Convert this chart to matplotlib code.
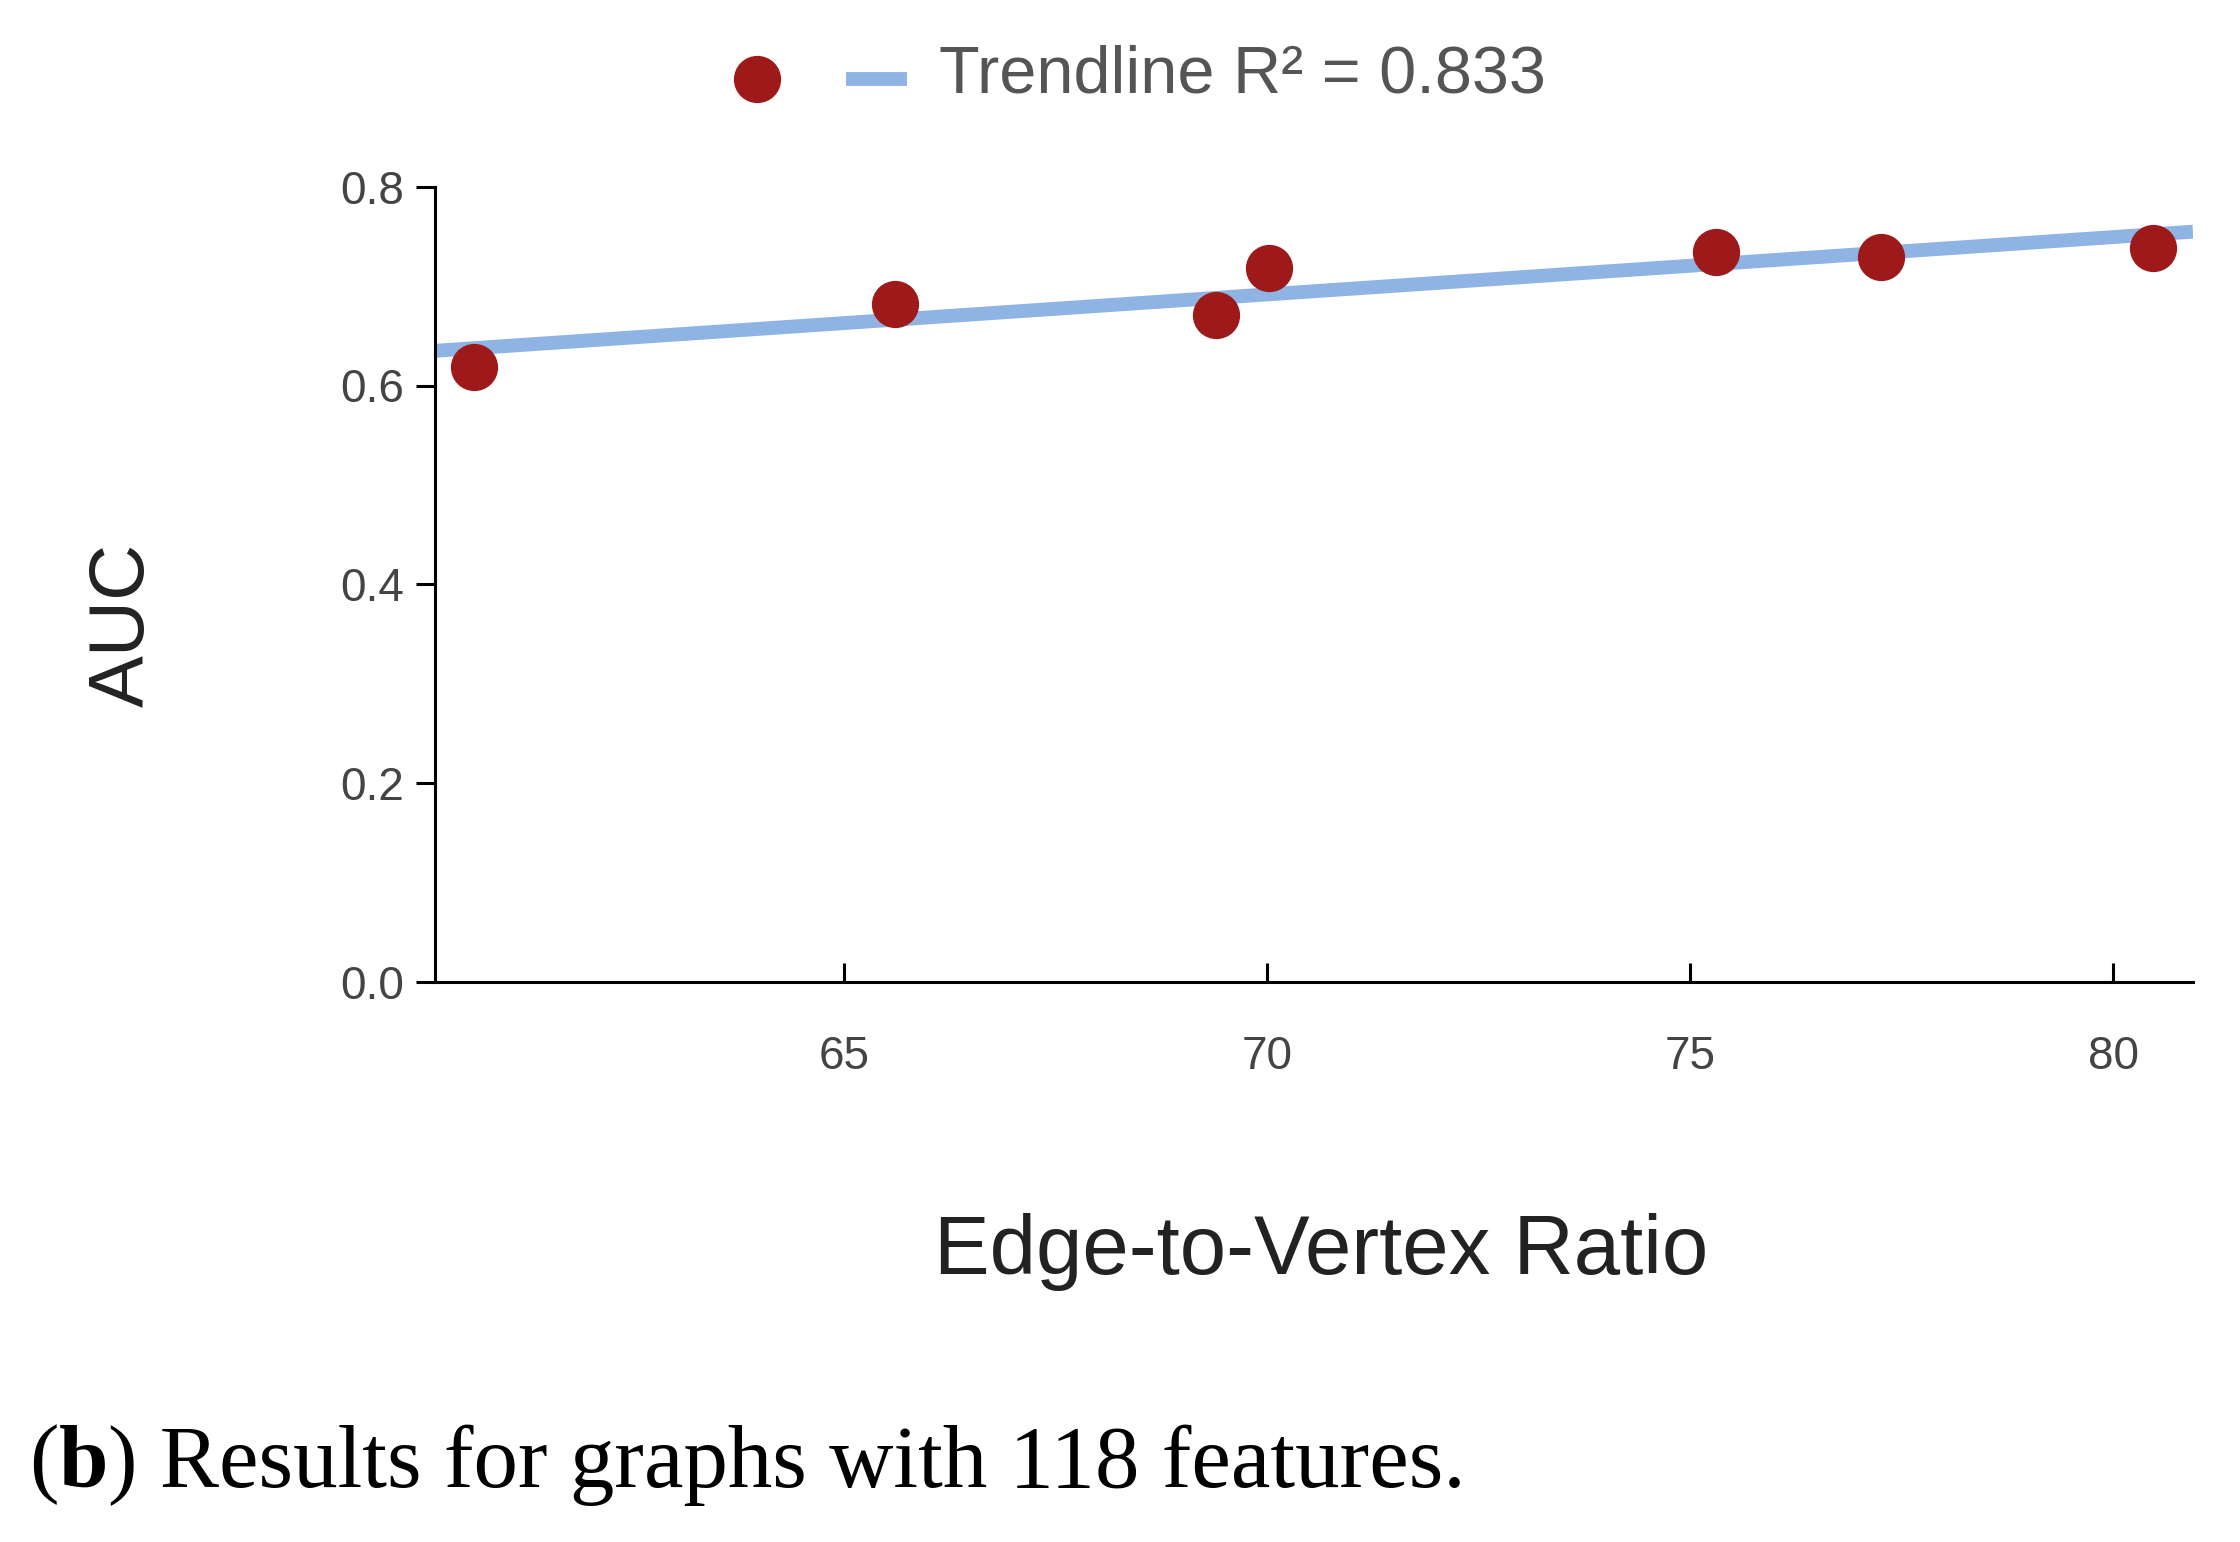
import matplotlib
matplotlib.use('Agg')
import matplotlib.pyplot as plt
import numpy as np

plt.rcParams['font.family'] = ['Liberation Sans', 'DejaVu Sans']

# data
ratio = [60.63, 65.6, 69.4, 70.02, 75.3, 77.25, 80.47]
auc = [0.619, 0.682, 0.671, 0.718, 0.734, 0.729, 0.738]
x_ticks = [65, 70, 75, 80]
y_ticks = [0.0, 0.2, 0.4, 0.6, 0.8]

C_DOT = '#9e1a1a'
C_TREND = '#8fb4e3'
C_TXT = '#444444'

fig = plt.figure(figsize=(22.4, 15.42), dpi=100)
ax = fig.add_axes([0.194, 0.363, 0.785, 0.516])

xmin, xmax = 60.16, 80.94
slope, icpt = np.polyfit(ratio, auc, 1)
xs = np.array([xmin, xmax])
ax.plot(xs, slope * xs + icpt, color=C_TREND, lw=10, solid_capstyle='butt', zorder=2)
ax.plot(ratio, auc, 'o', color=C_DOT, ms=33, zorder=3)

ax.set_xlim(xmin, xmax)
ax.set_ylim(0, 0.8)
ax.set_xticks(x_ticks)
ax.set_yticks(y_ticks)
ax.set_yticklabels([f'{v:.1f}' for v in y_ticks])
ax.spines['top'].set_visible(False)
ax.spines['right'].set_visible(False)
ax.spines['left'].set_linewidth(2.2)
ax.spines['bottom'].set_linewidth(2.2)
ax.tick_params(axis='x', direction='in', length=14, width=2.2, labelsize=33,
               labelcolor=C_TXT, pad=38)
ax.tick_params(axis='y', direction='out', length=14, width=2.2, labelsize=33,
               labelcolor=C_TXT, pad=8)

fig.text(0.055, 0.595, 'AUC', rotation=90, ha='center', va='center',
         fontsize=56, color='#222222')
fig.text(0.59, 0.188, 'Edge-to-Vertex Ratio', ha='center', va='center',
         fontsize=60, color='#222222')

# legend at top
fig.add_artist(plt.Line2D([0.338], [0.949], marker='o', ms=33, color=C_DOT,
                          linestyle='none', transform=fig.transFigure))
fig.add_artist(plt.Line2D([0.381, 0.402], [0.949, 0.949], color=C_TREND, lw=10,
                          transform=fig.transFigure))
fig.text(0.419, 0.951, 'Trendline R\u00b2 = 0.833', ha='left', va='center',
         fontsize=48, color='#555555')

t1 = fig.text(0.013, 0.05, '(', ha='left', va='center', fontsize=64,
              family='Liberation Serif')
fig.canvas.draw()
r = fig.canvas.get_renderer()
bb = t1.get_window_extent(r)
x = bb.x1 / fig.bbox.width
t2 = fig.text(x, 0.05, 'b', ha='left', va='center', fontsize=64,
              family='Liberation Serif', fontweight='bold')
bb = t2.get_window_extent(r)
x = bb.x1 / fig.bbox.width
fig.text(x, 0.05, ') Results for graphs with 118 features.', ha='left', va='center',
         fontsize=64, family='Liberation Serif')

fig.savefig('out.png', dpi=100, facecolor='white')
